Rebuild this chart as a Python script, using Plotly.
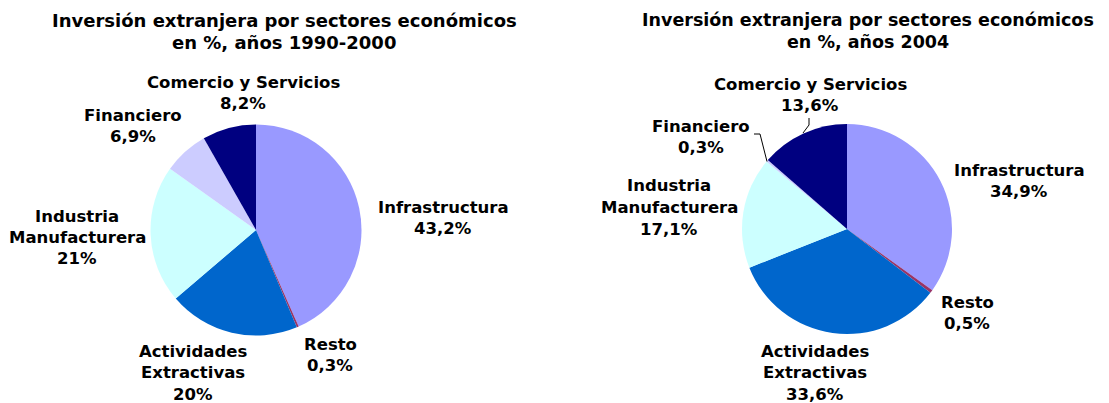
import plotly.graph_objects as go

W, H = 1109, 403          # target viewport
OFF = 8                   # page body margin
FW, FH = W - OFF, H - OFF  # figure size

sectors = ["Infrastructura", "Resto", "Actividades<br>Extractivas",
           "Industria<br>Manufacturera", "Financiero", "Comercio y Servicios"]
values_1990 = [43.2, 0.3, 20, 21, 6.9, 8.2]
values_2004 = [34.9, 0.5, 33.6, 17.1, 0.3, 13.6]
colors = ["#9999FF", "#993366", "#0066CC", "#CCFFFF", "#CCCCFF", "#000080"]
titles = ["Inversión extranjera por sectores económicos<br>en %, años 1990-2000",
          "Inversión extranjera por sectores económicos<br>en %, años 2004"]

FONT = "Verdana, DejaVu Sans, sans-serif"


def px(x, y):
    return (x - OFF) / FW, 1 - (y - OFF) / FH


def fmt(v):
    if float(v).is_integer():
        return f"{int(v)}%"
    return f"{v}".replace(".", ",") + "%"


fig = go.Figure()

# pie boxes in screen pixels (x0, y0, x1, y1)
boxes = [(150.5, 124.5, 361.5, 335.5), (742, 124, 952, 334)]
for vals, (x0, y0, x1, y1) in zip([values_1990, values_2004], boxes):
    ax0, ay1 = px(x0, y0)
    ax1, ay0 = px(x1, y1)
    fig.add_trace(go.Pie(
        labels=sectors, values=vals, sort=False, direction="clockwise",
        rotation=0, textinfo="none", hoverinfo="label+value",
        marker=dict(colors=colors, line=dict(width=0)),
        domain=dict(x=[ax0, ax1], y=[ay0, ay1]),
        showlegend=False,
    ))

# label positions (center x, first-line y) in screen pixels
label_pos = [
    [(443, 207), (330, 344), (193, 351), (77, 216), (133, 115), (243, 82)],
    [(1019, 170), (967, 302), (815, 351), (669, 186), (701, 126), (810, 84)],
]
LINE = 21.5
annotations = []
for vals, poss in zip([values_1990, values_2004], label_pos):
    for name, v, (cx, cy) in zip(sectors, vals, poss):
        lines = name.split("<br>") + [fmt(v)]
        for i, t in enumerate(lines):
            x, y = px(cx, cy + i * LINE)
            annotations.append(dict(
                x=x, y=y, xref="paper", yref="paper", text=t, showarrow=False,
                xanchor="center", yanchor="middle",
                font=dict(family=FONT, size=16.5, color="black", weight="bold")))

title_pos = [(284, 20, 18), (868, 20, 17.5)]
for t, (cx, cy, fs) in zip(titles, title_pos):
    for i, line in enumerate(t.split("<br>")):
        x, y = px(cx, cy + i * 22)
        annotations.append(dict(
            x=x, y=y, xref="paper", yref="paper", text=line, showarrow=False,
            xanchor="center", yanchor="middle",
            font=dict(family=FONT, size=fs, color="black", weight="bold")))

# leader lines for small slices in the 2004 chart
leaders = [
    [(754, 134), (760, 134), (767, 161.5)],
    [(809, 118), (809, 125), (803, 133)],
]
shapes = []
for pts in leaders:
    for (a, b) in zip(pts[:-1], pts[1:]):
        xa, ya = px(*a)
        xb, yb = px(*b)
        shapes.append(dict(type="line", xref="paper", yref="paper",
                           x0=xa, y0=ya, x1=xb, y1=yb,
                           line=dict(color="black", width=1)))

fig.update_layout(
    width=FW, height=FH, margin=dict(l=0, r=0, t=0, b=0),
    paper_bgcolor="white", plot_bgcolor="white",
    annotations=annotations, shapes=shapes,
)

fig.write_html("out.html")
